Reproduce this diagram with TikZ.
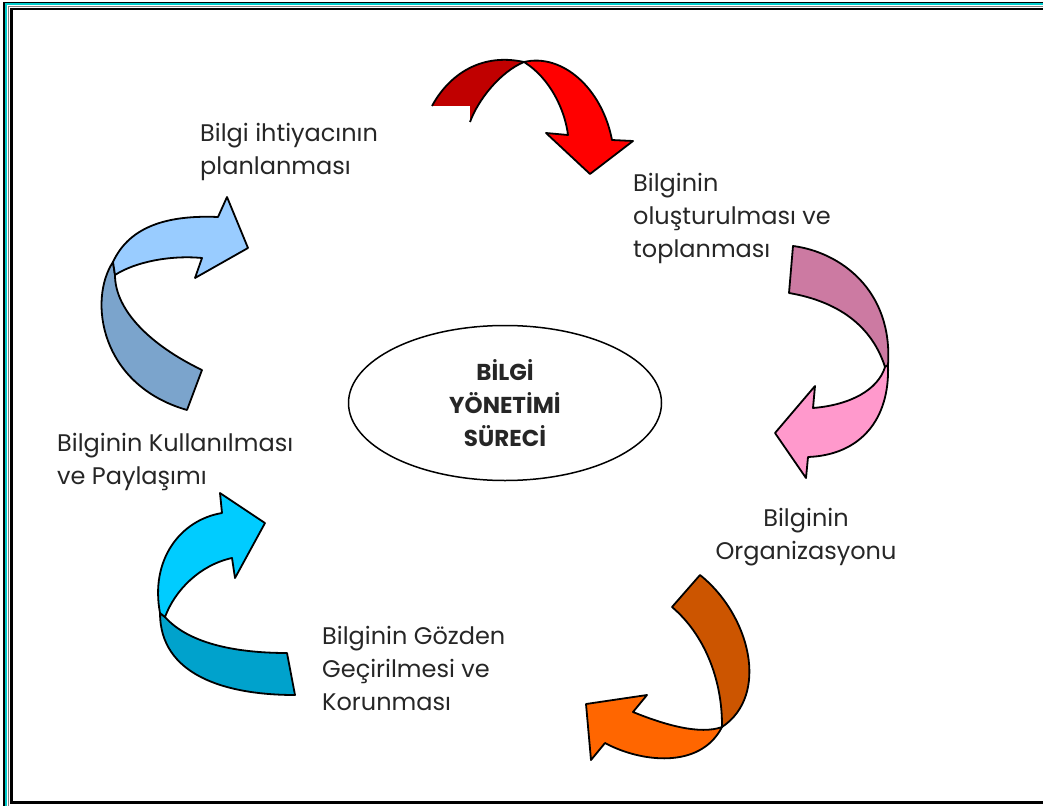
\documentclass[tikz,border=0pt]{standalone}
\usepackage{fontspec}
\setmainfont{Poppins}
\usetikzlibrary{shapes.geometric}

\definecolor{reddark}{HTML}{C00000}
\definecolor{redlight}{HTML}{FF0000}
\definecolor{pinkdark}{HTML}{CC7AA2}
\definecolor{pinklight}{HTML}{FF99CC}
\definecolor{orangedark}{HTML}{CC5500}
\definecolor{orangelight}{HTML}{FF6600}
\definecolor{cyandark}{HTML}{00A2CC}
\definecolor{cyanlight}{HTML}{00CCFF}
\definecolor{bluedark}{HTML}{7BA4CC}
\definecolor{bluelight}{HTML}{99CCFF}
\definecolor{framecyan}{HTML}{00CCCC}

\tikzset{
	ribbon/.style={draw=black,line width=1.8,line join=round},
	stagetext/.style={font=\fontsize{24}{33}\selectfont,align=left,inner sep=0pt,anchor=north west,text=black!85}
}

\begin{document}
\begin{tikzpicture}[x=1pt,y=-1pt]
	\useasboundingbox (0,0) rectangle (1043,805);
	\clip (0,0) rectangle (1043,805);
	
	% frame
	\draw [line width=1.2] (4,2.5) rectangle (1060,830);
	\draw [framecyan,line width=2] (6,4.5) rectangle (1060,830);
	\draw [gray,line width=1] (8.5,7) rectangle (1060,830);
	\draw [line width=2.6] (11.5,9) rectangle (1060,802.5);
	
	% planning -> creation
	\path [fill=reddark] (432,106) .. controls (447,78) and (478,52) .. (524,62)
		.. controls (500,72) and (478,100) .. (470,122) -- (470,106) -- cycle;
	\draw [ribbon] (432,106) .. controls (447,78) and (478,52) .. (524,62);
	\draw [ribbon] (470,122) .. controls (478,100) and (500,72) .. (524,62);
	\draw [ribbon,fill=redlight] (524,62) .. controls (562,53) and (602,88) .. (612,140) -- (633,141) -- (590,174) -- (546,133) -- (568,135)
		.. controls (565,110) and (550,78) .. (524,62) -- cycle;
	
	% creation -> organisation
	\draw [ribbon,fill=pinkdark] (793,246) .. controls (840,252) and (893,290) .. (888,365) -- (885,367)
		.. controls (870,320) and (830,300) .. (789,293) -- cycle;
	\draw [ribbon,fill=pinklight] (888,365) .. controls (890,420) and (860,455) .. (808,457) -- (806,478) -- (775,433) -- (815,386) -- (813,408)
		.. controls (850,405) and (878,390) .. (885,367) -- cycle;
	
	% organisation -> review
	\draw [ribbon,fill=orangedark] (700,575) .. controls (750,615) and (770,695) .. (722,727) -- (722,725)
		.. controls (722,680) and (705,635) .. (672,607) -- cycle;
	\draw [ribbon,fill=orangelight] (722,727) .. controls (700,735) and (665,725) .. (633,712) -- (647,695) -- (586,704) -- (591,760) -- (605,743)
		.. controls (640,762) and (700,770) .. (722,727) -- cycle;
	
	% review -> use
	\draw [ribbon,fill=cyandark] (287,653) -- (295,695) .. controls (225,695) and (160,675) .. (160,613) -- (165,617)
		.. controls (190,645) and (240,653) .. (287,653) -- cycle;
	\draw [ribbon,fill=cyanlight] (160,613) .. controls (150,560) and (180,520) .. (222,513) -- (220,493) -- (265,523) -- (235,578) -- (232,558)
		.. controls (200,565) and (175,590) .. (165,617) -- cycle;
	
	% use -> planning
	\draw [ribbon,fill=bluedark] (113,262) .. controls (88,300) and (100,385) .. (187,410) -- (202,370)
		.. controls (150,345) and (115,310) .. (115,275) -- cycle;
	\draw [ribbon,fill=bluelight] (113,262) .. controls (130,225) and (170,215) .. (218,217) -- (227,197) -- (248,248) -- (195,278) -- (202,258)
		.. controls (170,255) and (135,262) .. (115,275) -- cycle;
	
	\node (core) [ellipse,draw,line width=1.5,minimum width=313,minimum height=155,align=center,font=\fontsize{23}{33}\selectfont\bfseries,text=black!85] at (505,403) {BİLGİ\\YÖNETİMİ\\SÜRECİ};
	
	\begin{scope}[every node/.style={stagetext}]
		\node (planning) at (200,123) {Bilgi ihtiyacının\\planlanması};
		\node (creation) at (633,173) {Bilginin\\oluşturulması ve\\toplanması};
		\node (organisation) [anchor=north,align=center] at (806,508) {Bilginin\\Organizasyonu};
		\node (review) at (322,626) {Bilginin Gözden\\Geçirilmesi ve\\Korunması};
		\node (usage) at (57,433) {Bilginin Kullanılması\\ve Paylaşımı};
	\end{scope}
\end{tikzpicture}
\end{document}
